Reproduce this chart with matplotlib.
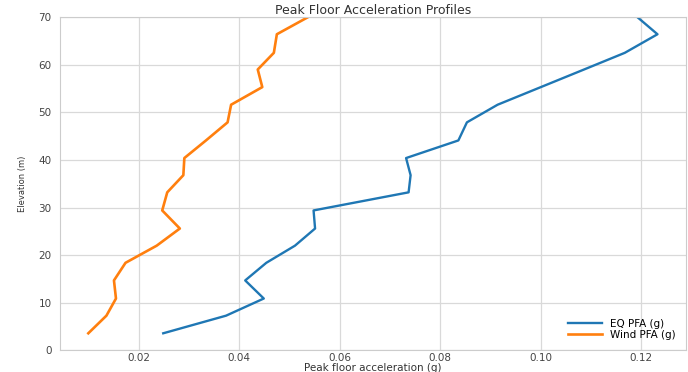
import matplotlib
matplotlib.use("Agg")
import matplotlib.pyplot as plt

# elevaciones de piso (m)
elevacion = [3.6, 7.3, 10.9, 14.7, 18.4, 22.0, 25.6, 29.4, 33.2, 36.8,
             40.4, 44.1, 47.9, 51.6, 55.3, 59.0, 62.5, 66.4, 70.0]

# aceleraciones de piso (g)
eq_pfa = [0.0249, 0.0374, 0.0449, 0.0412, 0.0454, 0.0511, 0.0551, 0.0548, 0.0737, 0.0741,
          0.0732, 0.0836, 0.0853, 0.0914, 0.1000, 0.1086, 0.1167, 0.1232, 0.1192]
wind_pfa = [0.0100, 0.0136, 0.0155, 0.0151, 0.0174, 0.0236, 0.0282, 0.0247, 0.0257, 0.0289,
            0.0291, 0.0334, 0.0377, 0.0384, 0.0446, 0.0437, 0.0469, 0.0475, 0.0537]

fig = plt.figure(figsize=(6.88, 3.72), dpi=100)
ax = fig.add_axes([0.087, 0.058, 0.910, 0.896])

ax.plot(eq_pfa, elevacion, color="#1f77b4", lw=1.7, label="EQ PFA (g)")
ax.plot(wind_pfa, elevacion, color="#ff7f0e", lw=1.9, label="Wind PFA (g)")

ax.set_ylim(0, 70)
ax.set_xticks([0.02, 0.04, 0.06, 0.08, 0.10, 0.12])
ax.set_yticks(range(0, 71, 10))

ax.grid(True, color="#d9d9d9", lw=0.9)
ax.set_axisbelow(True)
for s in ax.spines.values():
    s.set_color("#cccccc")
ax.tick_params(axis="x", length=0, labelsize=7.5, colors="#444444", pad=2)
ax.tick_params(axis="y", length=0, labelsize=7.5, colors="#444444", pad=6)

ax.set_title("Peak Floor Acceleration Profiles", fontsize=9, color="#333333", pad=2)
ax.set_xlabel("Peak floor acceleration (g)", fontsize=7.5, color="#333333", labelpad=0)
ax.set_ylabel("Elevation (m)", fontsize=6, color="#333333", labelpad=8)

ax.legend(loc="lower right", frameon=False, fontsize=7.5, handlelength=3.2,
          borderaxespad=0.6, labelspacing=0.1)

fig.savefig("out.png", dpi=100)
